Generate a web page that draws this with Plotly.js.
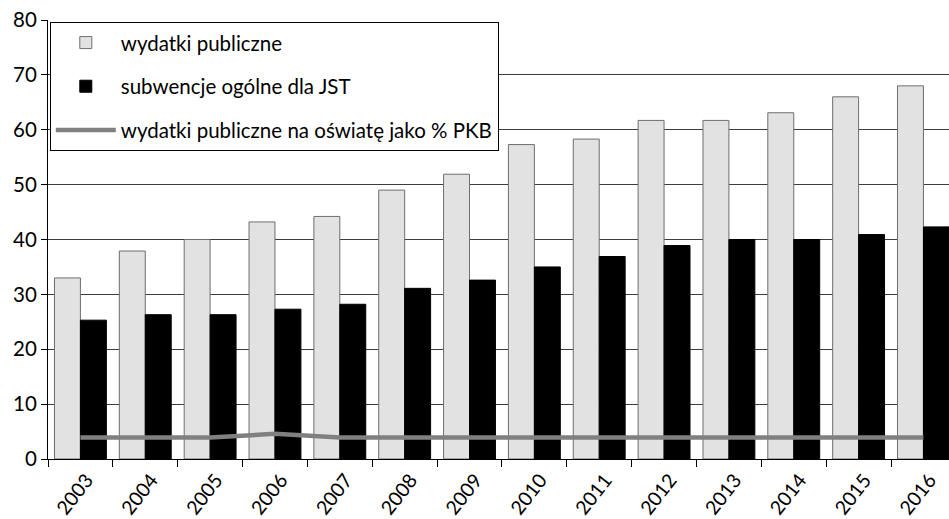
<!DOCTYPE html>
<html>
<head>
<meta charset="utf-8">
<script src="https://cdn.plot.ly/plotly-3.0.1.min.js"></script>
<style>html,body{margin:0;padding:0;background:#fff;}#chart{width:949px;height:519px;}</style>
</head>
<body>
<div id="chart"></div>
<script>
const years = ["2003","2004","2005","2006","2007","2008","2009","2010","2011","2012","2013","2014","2015","2016"];
const wydatkiPubliczne = [33.0, 37.9, 40.0, 43.2, 44.2, 49.0, 51.9, 57.3, 58.3, 61.7, 61.7, 63.1, 66.0, 68.0];
const subwencjeOgolne = [25.3, 26.3, 26.3, 27.3, 28.2, 31.1, 32.6, 35.0, 36.9, 38.9, 40.0, 40.0, 40.9, 42.3];
const procentPKB = [3.9, 3.9, 3.9, 4.6, 3.9, 3.9, 3.9, 3.9, 3.9, 3.9, 3.9, 3.9, 3.9, 3.9];
const seriesNames = ["wydatki publiczne", "subwencje ogólne dla JST", "wydatki publiczne na oświatę jako % PKB"];

const FONT = "Lato, 'Open Sans', sans-serif";
const FS = 20.5;

const traces = [
  {type: "bar", name: seriesNames[0], x: years, y: wydatkiPubliczne,
   marker: {color: "#e2e2e2", line: {color: "#6e6e6e", width: 1}},
   legendgroup: "a", hoverinfo: "skip"},
  {type: "bar", name: seriesNames[1], x: years, y: subwencjeOgolne,
   marker: {color: "#000000", line: {color: "#000000", width: 1}},
   legendgroup: "b", hoverinfo: "skip"},
  {type: "scatter", mode: "lines", name: seriesNames[2], x: years, y: procentPKB,
   line: {color: "#808080", width: 4.5}, legendgroup: "c", hoverinfo: "skip"}
];

const layout = {
  width: 949, height: 519,
  margin: {l: 48, r: 0, t: 20, b: 60},
  paper_bgcolor: "#ffffff", plot_bgcolor: "#ffffff",
  font: {family: FONT, size: FS, color: "#000"},
  barmode: "group", bargap: 0.2, bargroupgap: 0,
  showlegend: true,
  legend: {x: 0.002, y: 0.996, xanchor: "left", yanchor: "top",
           bgcolor: "#ffffff", bordercolor: "#000000", borderwidth: 1,
           font: {family: FONT, size: FS, color: "#000"},
           traceorder: "grouped", tracegroupgap: 14, itemwidth: 60},
  xaxis: {type: "category", range: [-0.5, 13.394], tickson: "boundaries",
          ticks: "outside", ticklen: 7, tickcolor: "#000", tickwidth: 1,
          showline: true, linecolor: "#000", linewidth: 1,
          showgrid: false, tickangle: -52, fixedrange: true,
          ticklabelstandoff: 1, ticklabelshift: 6,
          tickfont: {family: FONT, size: 19.5, color: "#000"}},
  yaxis: {range: [0, 80], dtick: 10, ticks: "outside", ticklen: 6,
          tickcolor: "#000", showline: true, linecolor: "#000", linewidth: 1,
          showgrid: true, gridcolor: "#3c3c3c", gridwidth: 1, zeroline: false,
          tickfont: {family: FONT, size: FS, color: "#000"}, fixedrange: true}
};

Plotly.newPlot("chart", traces, layout, {staticPlot: true});
</script>
</body>
</html>
